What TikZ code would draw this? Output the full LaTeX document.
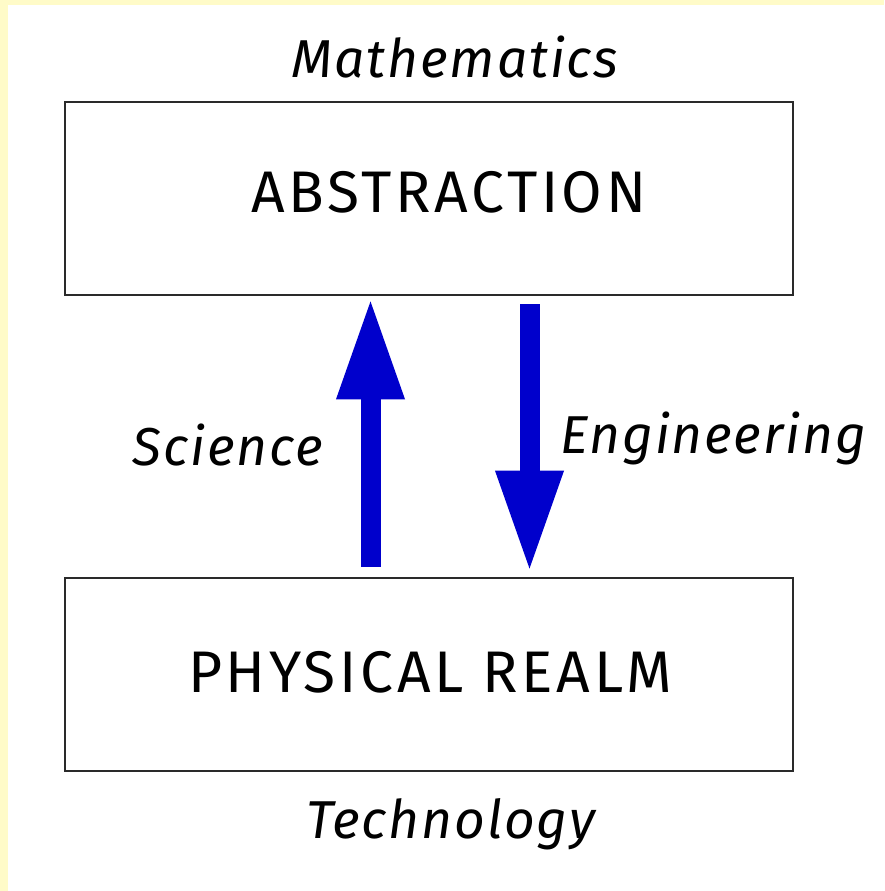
\documentclass[tikz,border=0pt]{standalone}
\usepackage{fontspec}
\setmainfont{Fira Sans}
\newfontfamily\capfont[LetterSpace=6.2]{Fira Sans}
\newfontfamily\itfont[LetterSpace=3.5,ItalicFont={Fira Sans Italic}]{Fira Sans}
\usetikzlibrary{arrows.meta,calc}
\definecolor{bgyellow}{HTML}{FFFBC8}
\definecolor{arrowblue}{HTML}{0000CC}
\definecolor{boxline}{HTML}{2A2A2A}
\tikzset{
  realmbox/.style={draw=boxline,line width=2.2pt,fill=white,minimum width=546pt,minimum height=144.75pt,inner sep=0pt},
  captext/.style={font=\capfont\fontsize{44}{48}\selectfont,anchor=base,inner sep=0pt},
  itext/.style={font=\itfont\fontsize{40}{44}\selectfont\itshape,anchor=base,inner sep=0pt},
  bigarrow/.style={draw=arrowblue,line width=15pt,-{Triangle[length=76.5pt,width=47pt,fill=arrowblue]}}
}
\begin{document}
\begin{tikzpicture}[x=0.75pt,y=-0.75pt]
  \fill[bgyellow] (0,0) rectangle (884,891);
  \fill[white] (8,5) rectangle (884,891);
  \useasboundingbox (0,0) rectangle (884,891);
  \node[realmbox] (abs) at (429,198.5) {};
  \node[realmbox] (phys) at (429,674.5) {};
  \node[captext] (abst) at (449,213) {ABSTRACTION};
  \node[captext] (physt) at (430,692) {PHYSICAL REALM};
  \node[itext] (math) at (455,78) {Mathematics};
  \node[itext] (tech) at (451,838) {Technology};
  \node[itext] (sci) at (228,465) {Science};
  \node[itext] (eng) at (713,453) {Engineering};
  \draw[bigarrow] ($(phys.north)+(-58.5,-10)$) -- ($(abs.south)+(-58.5,1)$);
  \draw[bigarrow] ($(abs.south)+(100.5,8)$) -- ($(phys.north)+(100.5,-4)$);
\end{tikzpicture}
\end{document}
